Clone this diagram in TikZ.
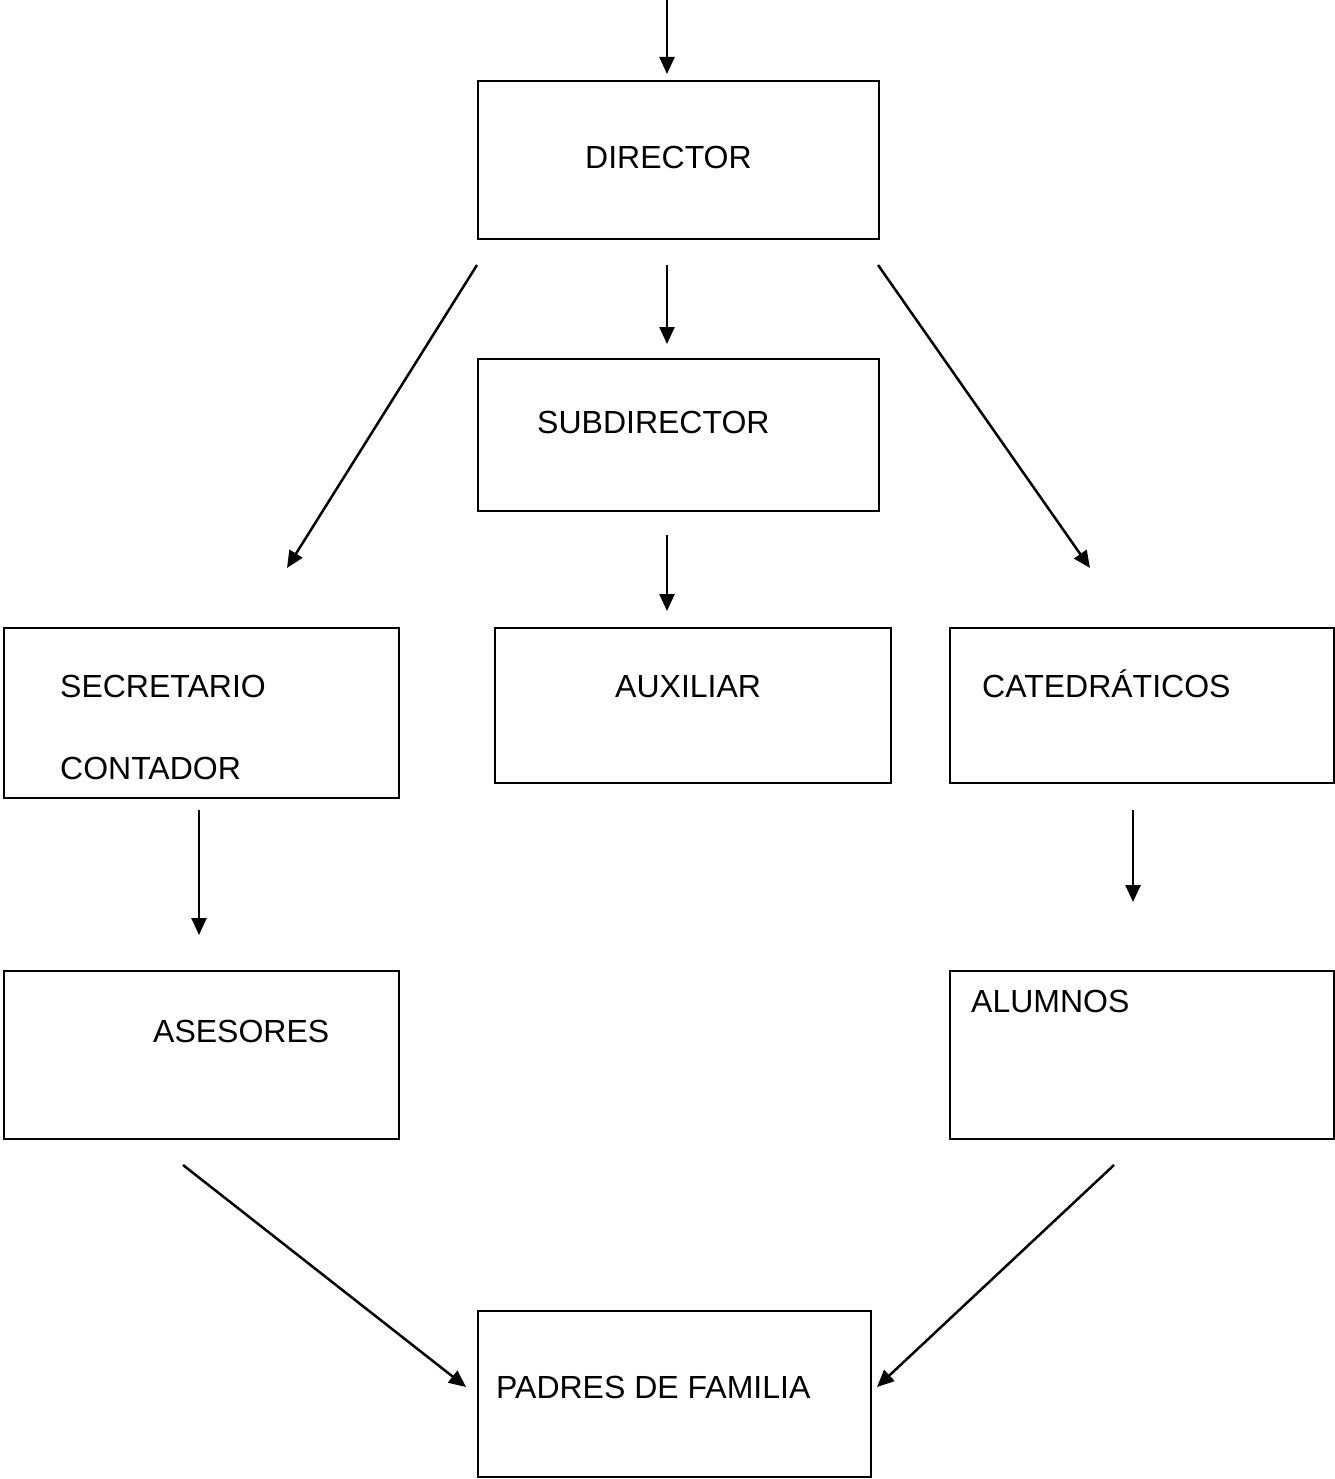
\documentclass[tikz,border=0pt]{standalone}
\usepackage{fontspec}
\setmainfont{Liberation Sans}
\usetikzlibrary{arrows.meta}
\begin{document}
\begin{tikzpicture}[x=1pt,y=-1pt,
  box/.style={draw, line width=2pt, inner sep=0pt, anchor=north west},
  lbl/.style={anchor=base west, inner sep=0pt, font=\fontsize{32}{38}\selectfont},
  arr/.style={line width=2.5pt, -{Triangle[length=17pt,width=15pt]}}]
\useasboundingbox (0,0) rectangle (1334,1479);
% boxes
\node[box, minimum width=401pt, minimum height=158pt] (dir) at (477,80) {};
\node[box, minimum width=401pt, minimum height=152pt] (sub) at (477,358) {};
\node[box, minimum width=395pt, minimum height=170pt] (sec) at (3,627) {};
\node[box, minimum width=396pt, minimum height=155pt] (aux) at (494,627) {};
\node[box, minimum width=384pt, minimum height=155pt] (cat) at (949,627) {};
\node[box, minimum width=395pt, minimum height=168pt] (ase) at (3,970) {};
\node[box, minimum width=384pt, minimum height=168pt] (alu) at (949,970) {};
\node[box, minimum width=393pt, minimum height=166pt] (pad) at (477,1310) {};
% texts
\node[lbl] (tdir) at (585,169) {DIRECTOR};
\node[lbl] (tsub) at (537,433) {SUBDIRECTOR};
\node[lbl] (tsec1) at (60,697) {SECRETARIO};
\node[lbl] (tsec2) at (60,779) {CONTADOR};
\node[lbl] (taux) at (615,697) {AUXILIAR};
\node[lbl] (tcat) at (982,697) {CATEDRÁTICOS};
\node[lbl] (tase) at (153,1042) {ASESORES};
\node[lbl] (talu) at (971,1012) {ALUMNOS};
\node[lbl] (tpad) at (496,1398) {PADRES DE FAMILIA};
% arrow end points
\coordinate (a0s) at (667,0);   \coordinate (a0e) at (667,74);
\coordinate (a1s) at (667,265); \coordinate (a1e) at (667,344);
\coordinate (a2s) at (477,265); \coordinate (a2e) at (287,568);
\coordinate (a3s) at (878,265); \coordinate (a3e) at (1090,568);
\coordinate (a4s) at (667,535); \coordinate (a4e) at (667,611);
\coordinate (a5s) at (199,810); \coordinate (a5e) at (199,935);
\coordinate (a6s) at (1133,810); \coordinate (a6e) at (1133,902);
\coordinate (a7s) at (183,1165); \coordinate (a7e) at (466,1387);
\coordinate (a8s) at (1114,1165); \coordinate (a8e) at (877,1387);
\foreach \i in {0,...,8} \draw[arr] (a\i s) -- (a\i e);
\end{tikzpicture}
\end{document}
